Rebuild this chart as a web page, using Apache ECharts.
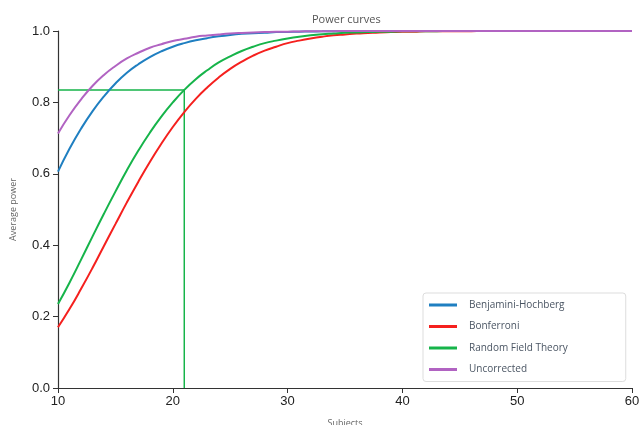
<!DOCTYPE html>
<html>
<head>
<meta charset="utf-8">
<script src="https://cdn.jsdelivr.net/npm/echarts@6/dist/echarts.min.js"></script>
<style>html,body{margin:0;padding:0;background:#fff}#c{width:639px;height:425px}</style>
</head>
<body>
<div id="c"></div>
<script>
// Subjects (x values)
const subjects = [10,11,12,13,14,15,16,17,18,19,20,21,22,23,24,25,26,27,28,29,30,31,32,33,34,35,36,37,38,39,40,41,42,43,44,45,46,47,48,49,50,51,52,53,54,55,56,57,58,59,60];
// Average power per method
const benjaminiHochberg = [0.606,0.670,0.726,0.775,0.817,0.853,0.883,0.907,0.927,0.943,0.956,0.966,0.974,0.980,0.985,0.989,0.992,0.994,0.995,0.997,0.9975,0.998,0.9987,0.999,0.9993,0.9995,0.9996,0.9997,0.9998,0.9998,0.9999,0.9999,1,1,1,1,1,1,1,1,1,1,1,1,1,1,1,1,1,1,1];
const bonferroni = [0.170,0.221,0.277,0.336,0.398,0.459,0.520,0.578,0.633,0.684,0.731,0.773,0.810,0.842,0.870,0.894,0.914,0.931,0.945,0.956,0.966,0.973,0.979,0.984,0.988,0.9905,0.993,0.9945,0.996,0.997,0.998,0.998,0.999,0.999,0.9993,0.9995,0.9996,0.9997,0.9998,0.9998,0.9999,0.9999,1,1,1,1,1,1,1,1,1];
const randomFieldTheory = [0.235,0.295,0.359,0.424,0.488,0.550,0.610,0.665,0.715,0.760,0.800,0.835,0.865,0.890,0.912,0.929,0.944,0.956,0.966,0.973,0.979,0.984,0.988,0.991,0.993,0.995,0.996,0.997,0.998,0.998,0.999,0.9993,0.9995,0.9996,0.9997,0.9998,0.9999,0.9999,1,1,1,1,1,1,1,1,1,1,1,1,1];
const uncorrected = [0.713,0.764,0.808,0.846,0.877,0.902,0.923,0.939,0.953,0.963,0.972,0.978,0.984,0.9875,0.9905,0.993,0.9947,0.996,0.997,0.9978,0.998,0.9988,0.9991,0.9994,0.9996,0.9997,0.9998,0.9998,0.9999,0.9999,1,1,1,1,1,1,1,1,1,1,1,1,1,1,1,1,1,1,1,1,1];
// Marked point on Random Field Theory curve
const markSubjects = 21;
const markPower = 0.835;
const seriesNames = ['Benjamini-Hochberg','Bonferroni','Random Field Theory','Uncorrected'];
const seriesColors = ['#1f7fc1','#f5201e','#16b44a','#b163c2'];
const xTicks = [10,20,30,40,50,60];
const yTicks = [0.0,0.2,0.4,0.6,0.8,1.0];

const allValues = [benjaminiHochberg, bonferroni, randomFieldTheory, uncorrected];
const pair = (vals) => subjects.map((s,i)=>[s, vals[i]]);

const series = seriesNames.map((n,i)=>({
  name:n, type:'line', data: pair(allValues[i]), smooth:true, showSymbol:false, symbol:'none',
  lineStyle:{color:seriesColors[i], width:2}, itemStyle:{color:seriesColors[i]}, z: 3
}));
series.push({
  name:'marker', type:'line', showSymbol:false, symbol:'none', silent:true,
  data:[[xTicks[0], markPower],[markSubjects, markPower],[markSubjects, yTicks[0]]],
  lineStyle:{color:seriesColors[2], width:1.5}, z:2
});

const chart = echarts.init(document.getElementById('c'), null, {renderer:'canvas'});
chart.setOption({
  animation:false,
  backgroundColor:'#fff',
  title:{text:'Power curves', left:312, top:14, padding:0, textStyle:{fontSize:11, fontWeight:'normal', color:'#555', fontFamily:'Open Sans'}},
  grid:{left:58, right:7, top:31, bottom:37, containLabel:false, outerBoundsMode:'none'},
  legend:{
    data:seriesNames, orient:'vertical', left:423, top:293,
    padding:[6,58,6,6], itemGap:9.5, itemWidth:28, itemHeight:3, icon:'rect',
    borderColor:'#ddd', borderWidth:1, borderRadius:3,
    textStyle:{fontSize:10, color:'#4a5563', fontFamily:'Open Sans', lineHeight:12, padding:[0,0,0,7]}
  },
  xAxis:{
    type:'value', min:10, max:60, interval:10,
    name:'Subjects', nameLocation:'middle', nameGap:31, nameMoveOverlap:false,
    nameTextStyle:{fontSize:9, color:'#666', fontFamily:'Open Sans'},
    axisLine:{lineStyle:{color:'#333', width:1.2}},
    axisTick:{show:true, length:5, lineStyle:{color:'#333'}},
    axisLabel:{fontSize:13, color:'#222', margin:7, fontFamily:'Liberation Sans'},
    splitLine:{show:false}
  },
  yAxis:{
    type:'value', min:0, max:1, interval:0.2,
    name:'Average power', nameLocation:'middle', nameGap:40, nameMoveOverlap:false,
    nameTextStyle:{fontSize:9, color:'#666', fontFamily:'Open Sans'},
    axisLine:{show:true, lineStyle:{color:'#333', width:1.2}},
    axisTick:{show:true, length:5, lineStyle:{color:'#333'}},
    axisLabel:{fontSize:13, color:'#222', margin:8, fontFamily:'Liberation Sans', formatter:(v)=>v.toFixed(1)},
    splitLine:{show:false}
  },
  series: series
});
</script>
</body>
</html>
